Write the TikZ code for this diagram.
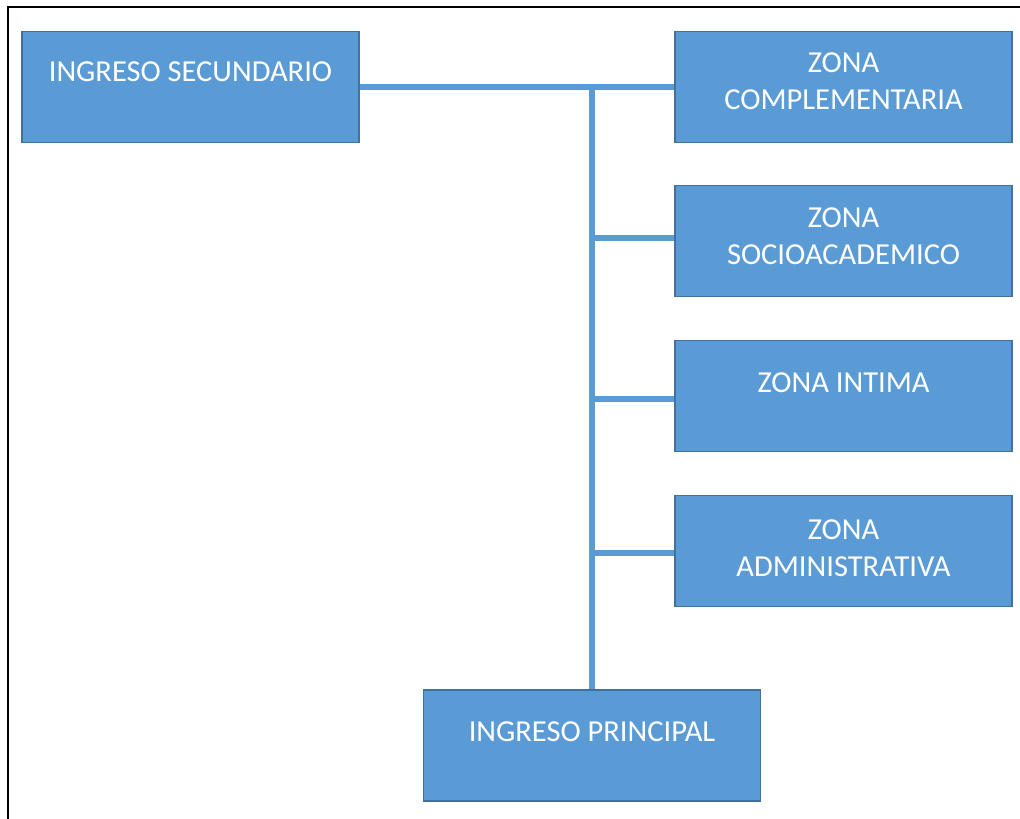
\documentclass[tikz,border=0pt]{standalone}
\usepackage{fontspec}
\setmainfont{Carlito}
\usetikzlibrary{positioning}
\definecolor{zonefill}{HTML}{5B9BD5}
\definecolor{zoneedge}{HTML}{41719C}

\begin{document}
\begin{tikzpicture}[x=1pt,y=-1pt]
  \tikzset{zone/.style = {shape=rectangle,draw=zoneedge,line width=1.2pt,fill=zonefill,minimum width=337pt,minimum height=111pt,inner sep=0pt}}
  \tikzset{caption/.style = {anchor=north,inner sep=0pt,align=center,text=white,font=\fontsize{30.5}{37}\selectfont}}
  \tikzset{link/.style = {draw=zonefill,line width=5.5pt}}

  \useasboundingbox (0,0) rectangle (1020,819);
  \draw[line width=2.5pt] (8,819) -- (8,7) -- (1020,7);

  \node[zone] (sec)    at (190.5,87)  {};
  \node[zone] (comp)   at (843.5,87)  {};
  \node[zone] (socio)  at (843.5,241) {};
  \node[zone] (intima) at (843.5,396) {};
  \node[zone] (admin)  at (843.5,551) {};
  \node[zone] (prin)   at (592,745.5) {};

  \node[caption] (secT)    at ([yshift=-31pt]sec.north)    {INGRESO SECUNDARIO};
  \node[caption] (compT)   at ([yshift=-22pt]comp.north)   {ZONA\\COMPLEMENTARIA};
  \node[caption] (socioT)  at ([yshift=-23pt]socio.north)  {ZONA\\SOCIOACADEMICO};
  \node[caption] (intimaT) at ([yshift=-33pt]intima.north) {ZONA INTIMA};
  \node[caption] (adminT)  at ([yshift=-25pt]admin.north)  {ZONA\\ADMINISTRATIVA};
  \node[caption] (prinT)   at ([yshift=-32pt]prin.north)   {INGRESO PRINCIPAL};

  \draw[link] (sec.east) -- (comp.west);
  \draw[link] (prin.north) -- (prin.north |- sec.east);

  \draw[link] ([yshift=3pt]socio.west) -- ([yshift=3pt]socio.west -| prin);
  \draw[link] ([yshift=-3pt]intima.west) -- ([yshift=-3pt]intima.west -| prin);
  \draw[link] ([yshift=-2pt]admin.west) -- ([yshift=-2pt]admin.west -| prin);
\end{tikzpicture}
\end{document}
